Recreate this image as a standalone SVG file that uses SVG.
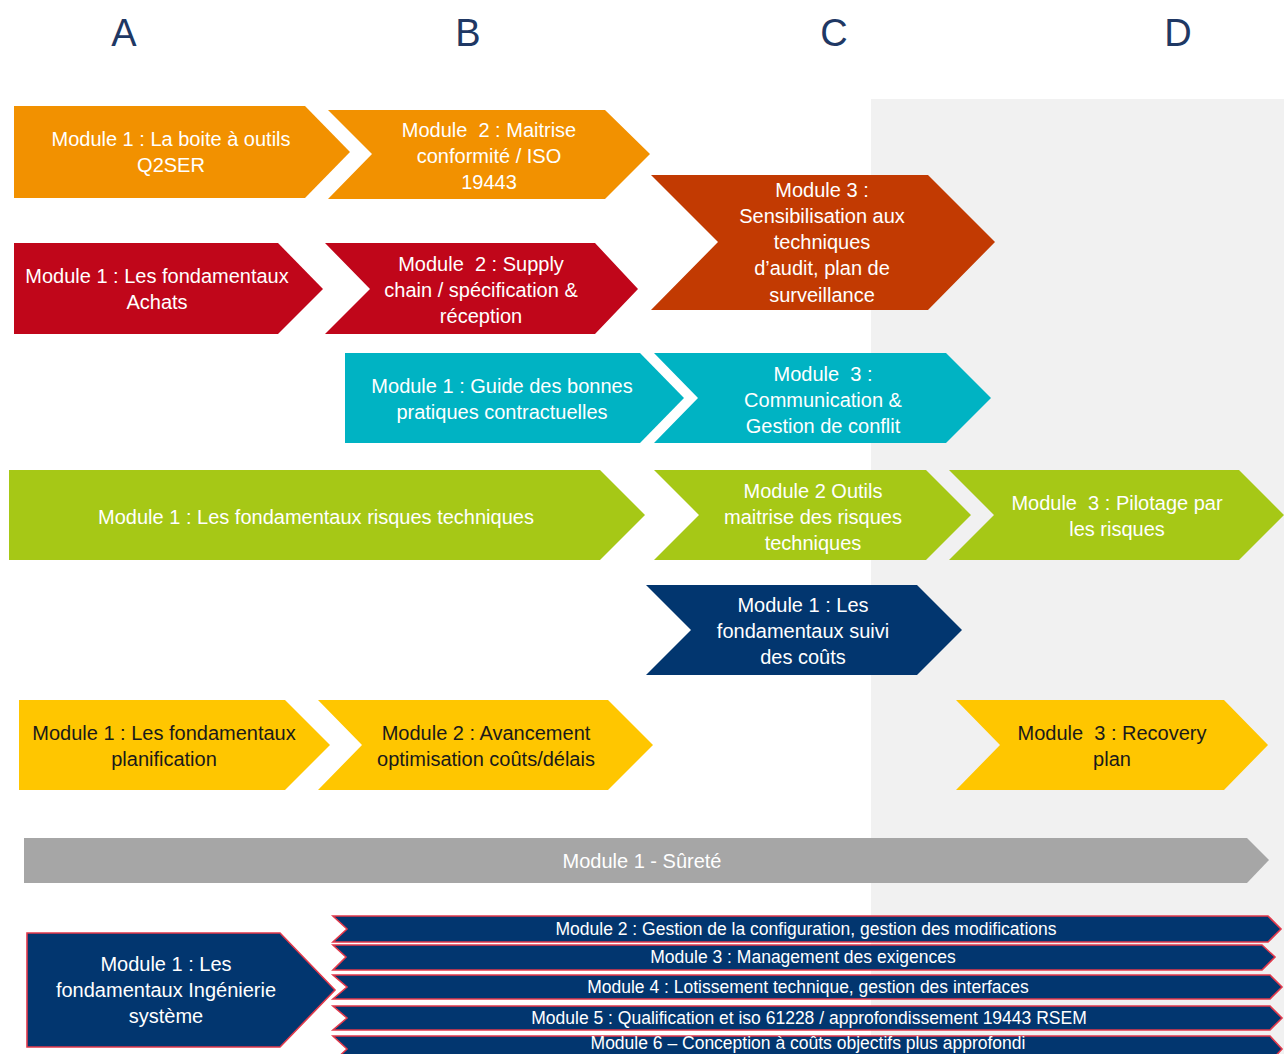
<svg xmlns="http://www.w3.org/2000/svg" width="1284" height="1054" viewBox="0 0 1284 1054">
<style>
  .hdr { font-family: "Liberation Sans", Arial, sans-serif; font-size: 38px; fill: #1f3864; text-anchor: middle; }
  .t { font-family: "Liberation Sans", Arial, sans-serif; font-size: 20px; fill: #ffffff; text-anchor: middle; white-space: pre; }
  .dk { fill: #1a1a1a; }
  .s { font-family: "Liberation Sans", Arial, sans-serif; font-size: 17.5px; fill: #ffffff; text-anchor: middle; white-space: pre; }
  .orange { fill: #f29100; }
  .red { fill: #c0061a; }
  .rust { fill: #c23a02; }
  .teal { fill: #00b3c3; }
  .green { fill: #a6c816; }
  .navy { fill: #02366f; }
  .yellow { fill: #ffc600; }
  .grey { fill: #a6a6a6; }
  .outl { stroke: #e2394b; stroke-width: 1.6; }
</style>
<rect id="panel" x="871" y="99" width="413" height="955" fill="#f1f1f1"/>
<g id="headers">
  <text class="hdr" x="124" y="46">A</text>
  <text class="hdr" x="468" y="46">B</text>
  <text class="hdr" x="834" y="46">C</text>
  <text class="hdr" x="1178" y="46">D</text>
</g>
<g id="connectors"/>
<g id="q1"><path class="orange" d="M14,106 H305 L350,152 L305,198 H14 Z"/>
  <text class="t" x="171" y="146">Module 1 : La boite à outils</text>
  <text class="t" x="171" y="172">Q2SER</text></g>
<g id="q2"><path class="orange" d="M328,110 H605 L650,154 L605,199 H328 L372,154 Z"/>
  <text class="t" x="489" y="137">Module  2 : Maitrise</text>
  <text class="t" x="489" y="163">conformité / ISO</text>
  <text class="t" x="489" y="189">19443</text></g>
<g id="a1"><path class="red" d="M14,243 H278 L323,289 L278,334 H14 Z"/>
  <text class="t" x="157" y="283">Module 1 : Les fondamentaux</text>
  <text class="t" x="157" y="309">Achats</text></g>
<g id="a2"><path class="red" d="M325,243 H595 L638,289 L595,334 H325 L370,289 Z"/>
  <text class="t" x="481" y="271">Module  2 : Supply</text>
  <text class="t" x="481" y="297">chain / spécification &amp;</text>
  <text class="t" x="481" y="323">réception</text></g>
<g id="q3"><path class="rust" d="M651,175 H928 L995,242 L928,310 H651 L718,242 Z"/>
  <text class="t" x="822" y="197">Module 3 :</text>
  <text class="t" x="822" y="223">Sensibilisation aux</text>
  <text class="t" x="822" y="249">techniques</text>
  <text class="t" x="822" y="275">d’audit, plan de</text>
  <text class="t" x="822" y="302">surveillance</text></g>
<g id="c1"><path class="teal" d="M345,353 H640 L684,398 L640,443 H345 Z"/>
  <text class="t" x="502" y="393">Module 1 : Guide des bonnes</text>
  <text class="t" x="502" y="419">pratiques contractuelles</text></g>
<g id="c3"><path class="teal" d="M654,353 H946 L991,398 L946,443 H654 L698,398 Z"/>
  <text class="t" x="823" y="381">Module  3 :</text>
  <text class="t" x="823" y="407">Communication &amp;</text>
  <text class="t" x="823" y="433">Gestion de conflit</text></g>
<g id="r1"><path class="green" d="M9,470 H600 L645,515 L600,560 H9 Z"/>
  <text class="t" x="316" y="524">Module 1 : Les fondamentaux risques techniques</text></g>
<g id="r2"><path class="green" d="M654,470 H926 L971,515 L926,560 H654 L699,515 Z"/>
  <text class="t" x="813" y="498">Module 2 Outils</text>
  <text class="t" x="813" y="524">maitrise des risques</text>
  <text class="t" x="813" y="550">techniques</text></g>
<g id="r3"><path class="green" d="M949,470 H1239 L1284,515 L1239,560 H949 L994,515 Z"/>
  <text class="t" x="1117" y="510">Module  3 : Pilotage par</text>
  <text class="t" x="1117" y="536">les risques</text></g>
<g id="k1"><path class="navy" d="M646,585 H917 L962,630 L917,675 H646 L691,630 Z"/>
  <text class="t" x="803" y="612">Module 1 : Les</text>
  <text class="t" x="803" y="638">fondamentaux suivi</text>
  <text class="t" x="803" y="664">des coûts</text></g>
<g id="p1"><path class="yellow" d="M19,700 H285 L330,745 L285,790 H19 Z"/>
  <text class="t dk" x="164" y="740">Module 1 : Les fondamentaux</text>
  <text class="t dk" x="164" y="766">planification</text></g>
<g id="p2"><path class="yellow" d="M318,700 H608 L653,745 L608,790 H318 L362,745 Z"/>
  <text class="t dk" x="486" y="740">Module 2 : Avancement</text>
  <text class="t dk" x="486" y="766">optimisation coûts/délais</text></g>
<g id="p3"><path class="yellow" d="M956,700 H1224 L1268,745 L1224,790 H956 L1000,745 Z"/>
  <text class="t dk" x="1112" y="740">Module  3 : Recovery</text>
  <text class="t dk" x="1112" y="766">plan</text></g>
<g id="s1"><path class="grey" d="M24,838 H1247 L1269,860 L1247,883 H24 Z"/>
  <text class="t" x="642" y="868" fill="#f2f2f2">Module 1 - Sûreté</text></g>
<g id="i1"><path class="navy outl" d="M27,933 H280 L335,990 L280,1047 H27 Z"/>
  <text class="t" x="166" y="971">Module 1 : Les</text>
  <text class="t" x="166" y="997">fondamentaux Ingénierie</text>
  <text class="t" x="166" y="1023">système</text></g>
<g id="i2"><path class="navy outl" d="M333,916 H1268 L1281,929 L1268,942 H333 L347,929 Z"/>
  <text class="s" x="806" y="935">Module 2 : Gestion de la configuration, gestion des modifications</text></g>
<g id="i3"><path class="navy outl" d="M333,945 H1262 L1275,957 L1262,970 H333 L346,957 Z"/>
  <text class="s" x="803" y="963">Module 3 : Management des exigences</text></g>
<g id="i4"><path class="navy outl" d="M333,975 H1270 L1282,987 L1270,999 H333 L347,987 Z"/>
  <text class="s" x="808" y="993">Module 4 : Lotissement technique, gestion des interfaces</text></g>
<g id="i5"><path class="navy outl" d="M333,1006 H1270 L1282,1018 L1270,1030 H333 L347,1018 Z"/>
  <text class="s" x="809" y="1024">Module 5 : Qualification et iso 61228 / approfondissement 19443 RSEM</text></g>
<g id="i6"><path class="navy outl" d="M333,1036 H1270 L1282,1049 L1270,1062 H333 L347,1049 Z"/>
  <text class="s" x="808" y="1049">Module 6 – Conception à coûts objectifs plus approfondi</text></g>
</svg>
